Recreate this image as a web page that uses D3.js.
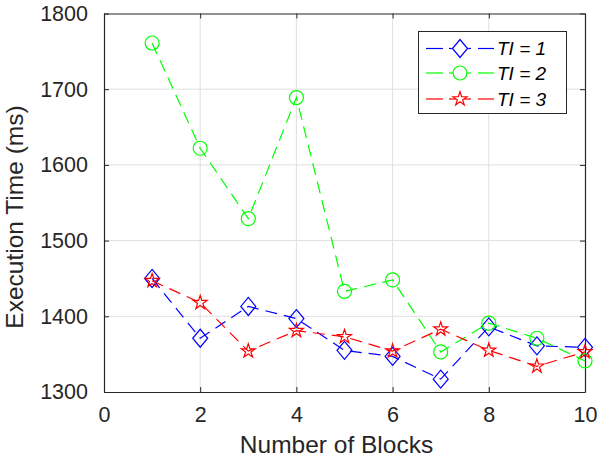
<!DOCTYPE html>
<html>
<head>
<meta charset="utf-8">
<script src="https://cdn.jsdelivr.net/npm/d3@7/dist/d3.min.js"></script>
<style>
  body { margin: 0; background: #fff; }
  svg { font-family: "Liberation Sans", Arial, sans-serif; }
</style>
</head>
<body>
<svg id="chart" width="600" height="462"></svg>
<script>
(function() {

  // ------------------------- data -------------------------
  var blocks = [1, 2, 3, 4, 5, 6, 7, 8, 9, 10];
  var ti1 = [1450, 1371, 1413, 1397, 1355, 1347, 1317, 1386, 1361, 1359];
  var ti2 = [1761, 1622, 1529, 1689, 1433, 1448, 1353, 1391, 1371, 1341];
  var ti3 = [1447, 1418, 1354, 1381, 1373, 1354, 1383, 1355, 1334, 1353];
  var seriesNames = ["TI = 1", "TI = 2", "TI = 3"];
  var xTicks = [0, 2, 4, 6, 8, 10];
  var yTicks = [1300, 1400, 1500, 1600, 1700, 1800];

  var series = [
    { name: seriesNames[0], values: ti1, color: "#0000ff", marker: "diamond" },
    { name: seriesNames[1], values: ti2, color: "#00ff00", marker: "circle" },
    { name: seriesNames[2], values: ti3, color: "#ff0000", marker: "star" }
  ];

  var left = 104, right = 585, top = 13.5, bottom = 392;
  var ink = "#262626";

  var x = d3.scaleLinear().domain([0, 10]).range([left, right]);
  var y = d3.scaleLinear().domain([1300, 1800]).range([bottom, top]);

  var svg = d3.select("#chart");

  // grid
  var grid = svg.append("g").attr("stroke", "#dfdfdf").attr("stroke-width", 1);
  grid.selectAll(".gx").data(xTicks.slice(1, -1)).enter().append("line")
      .attr("x1", function(d) { return x(d); }).attr("x2", function(d) { return x(d); })
      .attr("y1", top).attr("y2", bottom);
  grid.selectAll(".gy").data(yTicks.slice(1, -1)).enter().append("line")
      .attr("y1", function(d) { return y(d); }).attr("y2", function(d) { return y(d); })
      .attr("x1", left).attr("x2", right);

  // axes (ticks inward, box all round)
  var xAxis = svg.append("g").attr("transform", "translate(0," + bottom + ")")
      .call(d3.axisBottom(x).tickValues(xTicks).tickSizeInner(-5).tickSizeOuter(0).tickPadding(14));
  var yAxis = svg.append("g").attr("transform", "translate(" + left + ",0)")
      .call(d3.axisLeft(y).tickValues(yTicks).tickFormat(d3.format("d")).tickSizeInner(-5).tickSizeOuter(0).tickPadding(16));
  var xTop = svg.append("g").attr("transform", "translate(0," + top + ")")
      .call(d3.axisTop(x).tickValues(xTicks).tickSizeInner(-5).tickSizeOuter(0).tickFormat(""));
  var yRight = svg.append("g").attr("transform", "translate(" + right + ",0)")
      .call(d3.axisRight(y).tickValues(yTicks).tickSizeInner(-5).tickSizeOuter(0).tickFormat(""));

  [xAxis, yAxis, xTop, yRight].forEach(function(g) {
    g.selectAll("path").attr("stroke", ink).attr("stroke-width", 1.2);
    g.selectAll("line").attr("stroke", ink);
    g.selectAll("text").attr("fill", ink).style("font-size", "21.5px").style("font-family", "inherit");
  });
  xAxis.selectAll("text").attr("dy", "0.75em");

  // axis labels
  svg.append("text").attr("x", (left + right) / 2 - 8).attr("y", 453)
     .attr("text-anchor", "middle").attr("fill", ink).style("font-size", "24.5px")
     .text("Number of Blocks");
  svg.append("text").attr("transform", "translate(23,217) rotate(-90)")
     .attr("text-anchor", "middle").attr("fill", ink).style("font-size", "24.5px")
     .text("Execution Time (ms)");

  // markers
  function markerPath(kind) {
    if (kind === "diamond") return "M0,-9L7.5,0L0,9L-7.5,0Z";
    if (kind === "circle") return d3.symbol(d3.symbolCircle, Math.PI * 49)();
    return d3.symbol(d3.symbolStar, 60)();
  }

  var line = d3.line()
      .x(function(d, i) { return x(blocks[i]); })
      .y(function(d) { return y(d); });

  series.forEach(function(s) {
    var g = svg.append("g");
    g.append("path").attr("d", line(s.values))
      .attr("fill", "none").attr("stroke", s.color).attr("stroke-width", 1.2)
      .attr("stroke-dasharray", "12,7");
    g.selectAll("path.m").data(s.values).enter().append("path")
      .attr("class", "m")
      .attr("d", markerPath(s.marker))
      .attr("transform", function(d, i) { return "translate(" + x(blocks[i]) + "," + y(d) + ")"; })
      .attr("fill", "none").attr("stroke", s.color).attr("stroke-width", 1.2);
  });

  // legend
  var lg = svg.append("g");
  lg.append("rect").attr("x", 418.5).attr("y", 31.5).attr("width", 148).attr("height", 82)
    .attr("fill", "#fff").attr("stroke", ink).attr("stroke-width", 1);
  var rowY = [48.5, 73, 99];
  series.forEach(function(s, i) {
    var r = lg.append("g").attr("transform", "translate(0," + rowY[i] + ")");
    r.append("line").attr("x1", 426).attr("x2", 443).attr("stroke", s.color).attr("stroke-width", 1.2);
    r.append("line").attr("x1", 478).attr("x2", 494).attr("stroke", s.color).attr("stroke-width", 1.2);
    r.append("line").attr("x1", 449).attr("x2", 471).attr("stroke", s.color).attr("stroke-width", 1.2);
    r.append("path").attr("d", markerPath(s.marker)).attr("transform", "translate(460,0)")
      .attr("fill", "#fff").attr("stroke", s.color).attr("stroke-width", 1.2);
    r.append("text").attr("x", 497).attr("dy", "0.35em").attr("fill", "#000")
      .style("font-size", "19px").style("font-style", "italic").text(s.name);
  });

}());
</script>
</body>
</html>
